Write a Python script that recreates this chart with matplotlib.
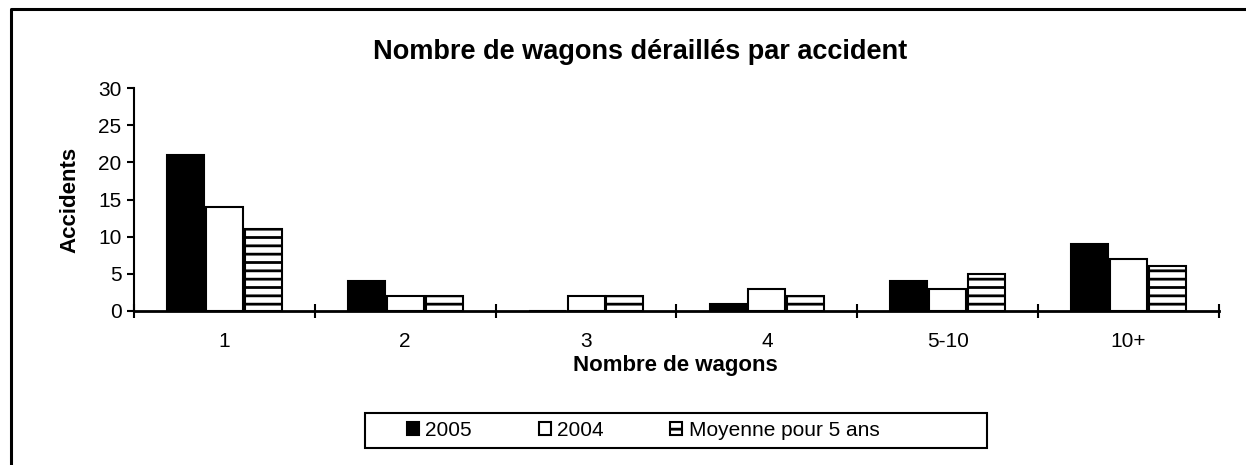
import matplotlib
matplotlib.use("Agg")
import matplotlib.pyplot as plt
import numpy as np
from matplotlib.lines import Line2D
from matplotlib.patches import Rectangle

plt.rcParams['font.family'] = ['Liberation Sans', 'DejaVu Sans']
plt.rcParams['hatch.linewidth'] = 2.0
plt.rcParams['hatch.color'] = '#4a4a4a'

categories = ['1', '2', '3', '4', '5-10', '10+']
series_names = ['2005', '2004', 'Moyenne pour 5 ans']
v2005 = [21, 4, 0, 1, 4, 9]
v2004 = [14, 2, 2, 3, 3, 7]
vavg = [11, 2, 2, 2, 5, 6]
yticks = [0, 5, 10, 15, 20, 25, 30]

W, H = 1246, 465
fig = plt.figure(figsize=(W / 100, H / 100), dpi=100)
ax = fig.add_axes([134 / W, 1 - 311 / H, (1219 - 134) / W, (311 - 88) / H])

x = np.arange(len(categories))
bw = 0.215
styles = [
    dict(facecolor='black', edgecolor='black', hatch=None),
    dict(facecolor='white', edgecolor='black', hatch=None),
    dict(facecolor='white', edgecolor='black', hatch='--'),
]
handles = []
for i, (vals, st, name) in enumerate(zip([v2005, v2004, vavg], styles, series_names)):
    b = ax.bar(x + (i - 1) * bw, vals, width=bw - 0.01, linewidth=1.5,
               label=name, zorder=3, **st)
    handles.append(b)

ax.set_xlim(-0.5, len(categories) - 0.5)
ax.set_ylim(0, 30)
ax.set_yticks(yticks)
ax.set_xticks(x)
ax.set_xticklabels(categories)
ax.set_xticks(np.arange(len(categories) + 1) - 0.5, minor=True)
ax.tick_params(axis='x', which='major', length=0, labelsize=15, pad=15)
ax.tick_params(axis='x', which='minor', length=9.5, width=1.5, direction='inout')
ax.tick_params(axis='y', length=5, width=1.5, direction='out', labelsize=15, pad=4)
for s in ['top', 'right']:
    ax.spines[s].set_visible(False)
ax.spines['left'].set_linewidth(1.5)
ax.spines['bottom'].set_linewidth(2)

fig.text(640 / W, 1 - 52 / H, 'Nombre de wagons déraillés par accident',
         fontsize=19.5, fontweight='bold', ha='center', va='center')
fig.text(675 / W, 1 - 365 / H, 'Nombre de wagons', fontsize=16,
         fontweight='bold', ha='center', va='center')
fig.text(70 / W, 1 - 200 / H, 'Accidents', fontsize=16, fontweight='bold',
         ha='center', va='center', rotation=90)

# legend box
fig.add_artist(Rectangle((365 / W, 1 - 448 / H), (987 - 365) / W, 35 / H,
                         transform=fig.transFigure, facecolor='white',
                         edgecolor='black', linewidth=1.5))
leg = fig.legend(handles=handles, labels=series_names, loc='center left',
                 bbox_to_anchor=(407 / W, 1 - 430.5 / H), ncol=3, frameon=False,
                 fontsize=15, handlelength=0.58, handleheight=0.58,
                 handletextpad=0.3, columnspacing=3.2, borderpad=0,
                 borderaxespad=0)

# outer frame (partial, cut by the image edges)
fig.add_artist(Line2D([11 / W, 11 / W, 1.05], [-0.05, 1 - 9 / H, 1 - 9 / H],
                      transform=fig.transFigure, color='black', linewidth=2.2))

fig.savefig('out.png', dpi=100)
